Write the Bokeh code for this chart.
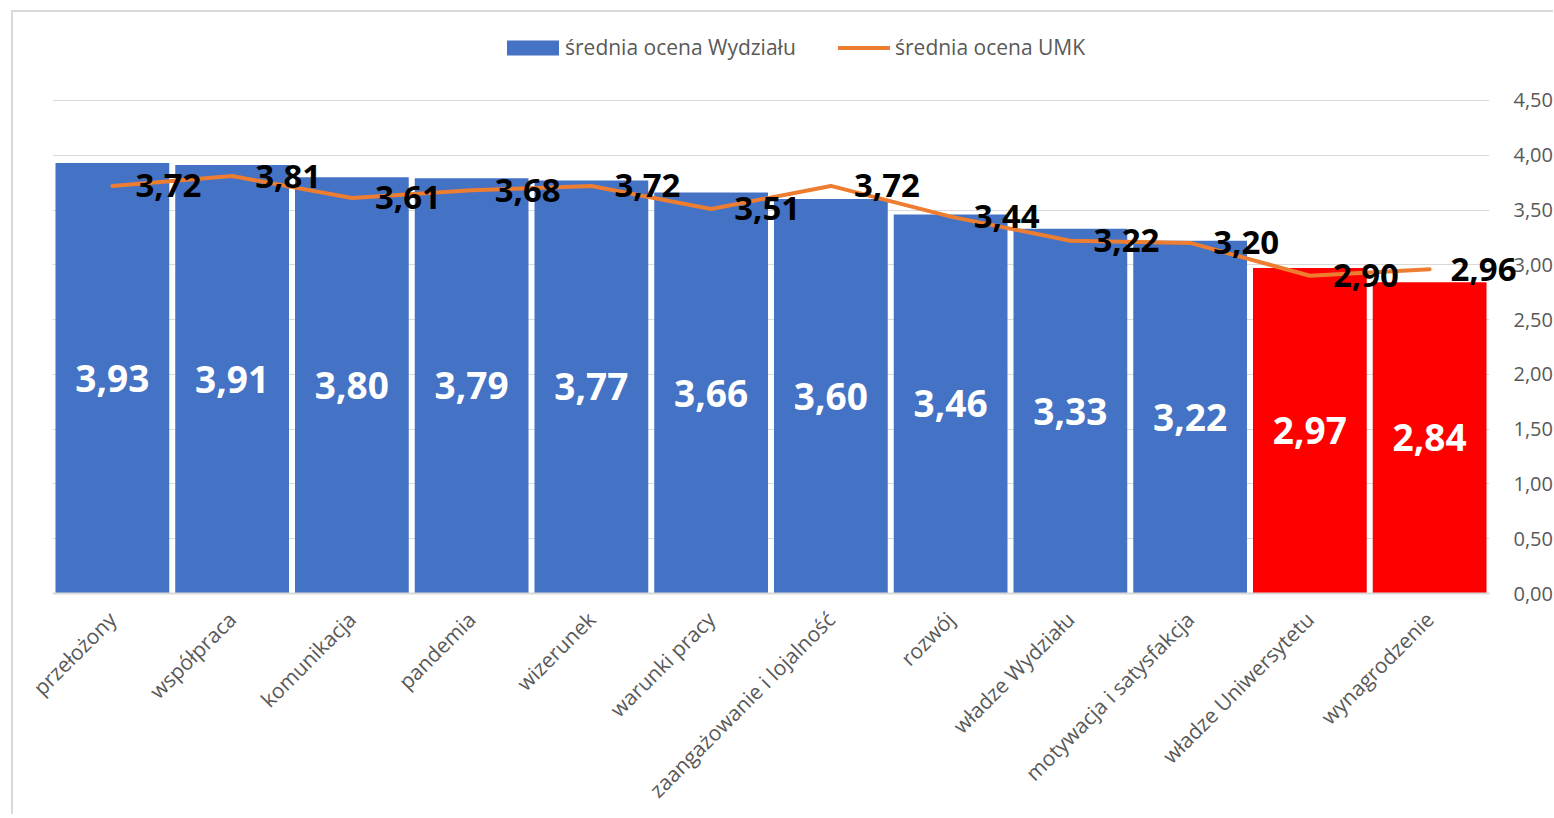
import math
from bokeh.plotting import figure
from bokeh.models import (ColumnDataSource, FactorRange, Range1d, FixedTicker, LinearAxis,
                          CustomJSTickFormatter, LabelSet, Legend, LegendItem)
from bokeh.embed import file_html
from bokeh.resources import INLINE
from bokeh.core.properties import value

categories = ["przełożony", "współpraca", "komunikacja", "pandemia", "wizerunek",
              "warunki pracy", "zaangażowanie i lojalność", "rozwój", "władze Wydziału",
              "motywacja i satysfakcja", "władze Uniwersytetu", "wynagrodzenie"]
faculty = [3.93, 3.91, 3.80, 3.79, 3.77, 3.66, 3.60, 3.46, 3.33, 3.22, 2.97, 2.84]
umk = [3.72, 3.81, 3.61, 3.68, 3.72, 3.51, 3.72, 3.44, 3.22, 3.20, 2.90, 2.96]
highlighted = ["władze Uniwersytetu", "wynagrodzenie"]
y_ticks = [0.0, 0.5, 1.0, 1.5, 2.0, 2.5, 3.0, 3.5, 4.0, 4.5]
series_names = ["średnia ocena Wydziału", "średnia ocena UMK"]

BLUE = "#4472C4"
RED = "#FF0000"
ORANGE = "#ED7D31"
GRAY_TXT = "#595959"
GRID = "#d9d9d9"
FONT = "Open Sans"
COMMA_FMT = "return tick.toFixed(2).replace('.', ',');"
# the plot area reaches above the top gridline (4,50) to hold the legend
Y_TOP = 5.23


def fmt(v):
    return f"{v:.2f}".replace(".", ",")


src = ColumnDataSource(dict(
    cat=categories,
    fac=faculty,
    umk=umk,
    half=[v / 2 for v in faculty],
    color=[RED if c in highlighted else BLUE for c in categories],
    fac_lbl=[fmt(v) for v in faculty],
))
# labels of the UMK line (the last one overflows the plot area, drawn via an axis below)
line_lbl_src = ColumnDataSource(dict(
    cat=categories[:-1],
    umk=umk[:-1],
    lbl=[fmt(v) for v in umk[:-1]],
))

p = figure(x_range=FactorRange(*categories), y_range=Range1d(0, Y_TOP),
           width=1542, height=804, output_backend="svg", toolbar_location=None,
           y_axis_location="right",
           min_border_left=39, min_border_top=8, min_border_right=65, min_border_bottom=223)
p.margin = (10, 0, 0, 11)
p.styles = {"border-left": f"2px solid {GRID}", "border-top": f"2px solid {GRID}"}
p.outline_line_color = None

bars = p.vbar(x="cat", top="fac", width=0.95, fill_color="color", line_color=None, source=src)
line = p.line(x="cat", y="umk", line_color=ORANGE, line_width=4, line_cap="round",
              line_join="round", source=src)

bar_labels = LabelSet(x="cat", y="half", text="fac_lbl", source=src,
                      text_align="center", text_baseline="middle", text_color="white",
                      text_font=value(FONT), text_font_style="bold", text_font_size="37px")
line_labels = LabelSet(x="cat", y="umk", text="lbl", source=line_lbl_src, x_offset=23,
                       text_align="left", text_baseline="middle", text_color="black",
                       text_font=value(FONT), text_font_style="bold", text_font_size="33px")
p.add_layout(bar_labels)
p.add_layout(line_labels)

legend_style = dict(orientation="horizontal", padding=0, margin=0, border_line_color=None,
                    background_fill_alpha=0, label_text_font=FONT,
                    label_text_font_size="21px", label_text_color=GRAY_TXT)
legend_bar = Legend(items=[LegendItem(label=series_names[0], renderers=[bars], index=0)],
                    location=(448, 532), glyph_width=65, glyph_height=19, label_standoff=0,
                    **legend_style)
legend_line = Legend(items=[LegendItem(label=series_names[1], renderers=[line])],
                     location=(786, 532), glyph_width=52, glyph_height=19, label_standoff=5,
                     **legend_style)
p.add_layout(legend_bar)
p.add_layout(legend_line)

xa = p.xaxis[0]
xa.major_label_orientation = math.pi / 4
xa.major_label_text_font = FONT
xa.major_label_text_font_size = "21px"
xa.major_label_text_color = GRAY_TXT
xa.axis_line_color = GRID
xa.axis_line_width = 2
xa.major_tick_line_color = None
xa.minor_tick_line_color = None
xa.major_tick_out = 0
xa.major_tick_in = 0
xa.major_label_standoff = 22

ya = p.yaxis[0]
ya.ticker = FixedTicker(ticks=y_ticks)
ya.formatter = CustomJSTickFormatter(code=COMMA_FMT)
ya.major_label_text_font = FONT
ya.major_label_text_font_size = "20px"
ya.major_label_text_color = GRAY_TXT
ya.axis_line_color = None
ya.major_tick_line_color = None
ya.minor_tick_line_color = None
ya.major_tick_out = 0
ya.major_tick_in = 0
ya.major_label_standoff = 24

# label of the last UMK point, which sticks out of the plot area
last_axis = LinearAxis(ticker=FixedTicker(ticks=[umk[-1]]),
                       formatter=CustomJSTickFormatter(code=COMMA_FMT),
                       axis_line_color=None, major_tick_line_color=None,
                       minor_tick_line_color=None, major_tick_out=0, major_tick_in=0,
                       major_label_standoff=-105,
                       major_label_text_font=FONT, major_label_text_font_style="bold",
                       major_label_text_font_size="33px", major_label_text_color="black")
p.add_layout(last_axis, "right")

p.xgrid.grid_line_color = None
p.ygrid.ticker = FixedTicker(ticks=y_ticks)
p.ygrid.grid_line_color = GRID
p.ygrid.grid_line_width = 1.2

open("out.html", "w").write(file_html(p, INLINE))
